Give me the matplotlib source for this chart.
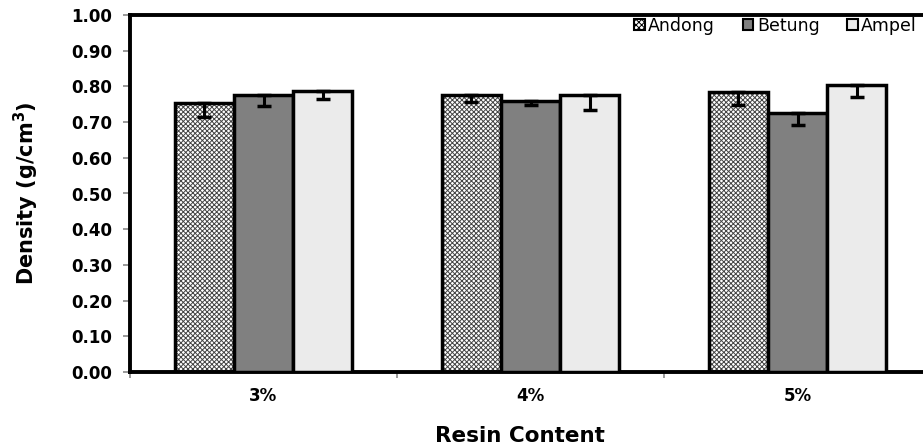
import matplotlib
matplotlib.use("Agg")
import matplotlib.pyplot as plt
from matplotlib.patches import Patch
import numpy as np

categories = ["3%", "4%", "5%"]
series = ["Andong", "Betung", "Ampel"]
andong = [0.754, 0.777, 0.784]
betung = [0.776, 0.760, 0.725]
ampel = [0.788, 0.775, 0.803]
andong_err = [0.040, 0.020, 0.035]
betung_err = [0.032, 0.011, 0.034]
ampel_err = [0.024, 0.040, 0.033]
yticks = [0.0, 0.1, 0.2, 0.3, 0.4, 0.5, 0.6, 0.7, 0.8, 0.9, 1.0]

plt.rcParams['font.family'] = ['DejaVu Sans']
plt.rcParams['hatch.linewidth'] = 0.7

fig = plt.figure(figsize=(9.23, 4.48), dpi=100)
ax = fig.add_axes([130/923, 1-372/448, (931-130)/923, (372-15)/448])

x = np.arange(len(categories))
w = 0.221
vals = [andong, betung, ampel]
errs = [andong_err, betung_err, ampel_err]
faces = ['white', '#808080', '#ebebeb']
for i, (v, e, fc) in enumerate(zip(vals, errs, faces)):
    pos = x + (i - 1) * w
    if i == 0:
        ax.bar(pos, v, w, color='white', edgecolor='#444444', hatch='xxxxxxx', linewidth=0, zorder=2)
        ax.bar(pos, v, w, fill=False, edgecolor='black', linewidth=2.5, zorder=3)
    else:
        ax.bar(pos, v, w, color=fc, edgecolor='black', linewidth=2.5, zorder=3)
    ax.errorbar(pos, v, yerr=[e, [0]*len(e)], fmt='none', ecolor='black',
                elinewidth=2.2, capsize=5, capthick=2.5, zorder=4)

ax.set_xlim(-0.5, 2.5)
ax.set_ylim(0, 1.0)
ax.set_yticks(yticks)
ax.set_yticklabels([f"{t:.2f}" for t in yticks], fontsize=12, fontweight='bold')
ax.set_xticks([-0.5, 0.5, 1.5, 2.5])
ax.set_xticklabels([])
ax.set_xticks(x, minor=True)
ax.set_xticklabels(categories, minor=True, fontsize=12, fontweight='bold')
ax.tick_params(axis='x', which='minor', length=0, pad=11)
ax.tick_params(axis='x', which='major', length=4, width=1.2, color='#888888', direction='out')
ax.tick_params(axis='y', length=5, width=1.2, color='#888888', direction='out', pad=8)

for s in ['left', 'top', 'bottom', 'right']:
    ax.spines[s].set_linewidth(2.8)
    ax.spines[s].set_color('black')

ax.set_ylabel("Density (g/cm$^\\mathbf{3}$)", fontsize=15, fontweight='bold')
ax.yaxis.set_label_coords((41-130)/801, 0.5)
ax.set_xlabel("Resin Content", fontsize=15.5, fontweight='bold')
ax.xaxis.set_label_coords((520-130)/801, (372-426)/357)

handles = [
    Patch(facecolor='white', edgecolor='black', hatch='xxxxxx', linewidth=1.5),
    Patch(facecolor='#808080', edgecolor='black', linewidth=1.5),
    Patch(facecolor='#ebebeb', edgecolor='black', linewidth=1.5),
]
leg = fig.legend(handles, series, loc='upper right', bbox_to_anchor=(924/923, 1-10/448),
                 ncol=3, frameon=False, fontsize=12.5, handlelength=0.6, handleheight=0.6,
                 handletextpad=0.2, columnspacing=1.6, borderaxespad=0)

fig.savefig("out.png", dpi=100)
